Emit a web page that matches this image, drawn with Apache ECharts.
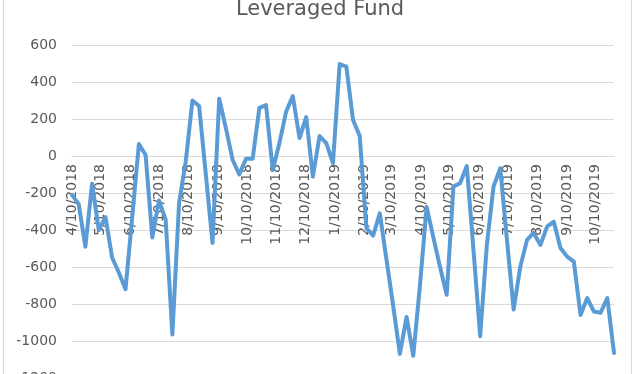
<!DOCTYPE html>
<html>
<head>
<meta charset="utf-8">
<script src="https://cdn.jsdelivr.net/npm/echarts@6/dist/echarts.min.js"></script>
<style>
html,body{margin:0;padding:0;background:#fff;}
#chart{width:640px;height:374px;}
</style>
</head>
<body>
<div id="chart"></div>
<script>
// Weekly observations (Tuesdays) starting 4/10/2018
var startDate = [2018, 4, 10];
var endDate = [2019, 10, 29];
var netPositions = [
  -210, -260, -490, -150, -400, -330, -550, -630, -720, -330,
  65, 5, -440, -240, -345, -965, -255, -30, 300, 270,
  -100, -470, 310, 150, -20, -100, -15, -15, 260, 275,
  -76, 70, 240, 324, 97, 210, -112, 108, 70, -38,
  497, 483, 195, 108, -390, -430, -310, -560, -810, -1070,
  -870, -1080, -700, -275, -440, -600, -750, -165, -147, -54,
  -507, -974, -480, -165, -66, -453, -830, -598, -454, -416,
  -481, -382, -355, -497, -544, -571, -859, -768, -841, -847,
  -768, -1065
];
var yTicks = [-1200, -1000, -800, -600, -400, -200, 0, 200, 400, 600];
var labelDay = 10; // axis labels on the 10th of each month

function fmt(d){
  return (d.getUTCMonth()+1) + '/' + d.getUTCDate() + '/' + d.getUTCFullYear();
}
var days = [];
var t0 = Date.UTC(startDate[0], startDate[1]-1, startDate[2]);
var t1 = Date.UTC(endDate[0], endDate[1]-1, endDate[2]);
for (var t = t0; t <= t1; t += 86400000) days.push(fmt(new Date(t)));
var seriesData = netPositions.map(function(v, i){
  return [fmt(new Date(t0 + i*7*86400000)), v];
});

var GRID_TOP = 45, GRID_H = 333;
var yMin = yTicks[0], yMax = yTicks[yTicks.length-1];
// distance from the grid bottom to the zero line (x axis crosses at 0)
var zeroOffset = GRID_H * (0 - yMin) / (yMax - yMin);

var FONT = 'DejaVu Sans';
var chart = echarts.init(document.getElementById('chart'));
chart.setOption({
  animation: false,
  title: {
    text: 'Leveraged Fund',
    left: 'center',
    top: -6,
    textStyle: {fontFamily: FONT, fontSize: 21, fontWeight: 'normal', color: '#595959'}
  },
  graphic: [{
    type: 'rect',
    shape: {x: 3.5, y: -5, width: 628, height: 390},
    style: {fill: 'none', stroke: '#d9d9d9', lineWidth: 1},
    silent: true
  }],
  grid: {left: 72, right: 26, top: GRID_TOP, height: GRID_H, containLabel: false, outerBoundsMode: 'none'},
  xAxis: {
    type: 'category',
    data: days,
    boundaryGap: false,
    position: 'bottom',
    offset: -zeroOffset,
    axisLine: {show: true, onZero: false, lineStyle: {color: '#d9d9d9', width: 1}},
    axisTick: {show: false},
    splitLine: {show: false},
    axisLabel: {
      rotate: 90,
      margin: 8,
      fontFamily: FONT,
      fontSize: 14,
      color: '#595959',
      interval: function(idx, val){ return +val.split('/')[1] === labelDay; }
    }
  },
  yAxis: {
    type: 'value',
    min: yMin,
    max: yMax,
    interval: 200,
    axisLine: {show: false},
    axisTick: {show: false},
    splitLine: {lineStyle: {color: '#d9d9d9', width: 1}},
    axisLabel: {margin: 15, fontFamily: FONT, fontSize: 14, color: '#595959',
      formatter: function(v){ return String(v); }}
  },
  series: [{
    type: 'line',
    zlevel: 1,
    data: seriesData,
    showSymbol: false,
    symbol: 'none',
    lineStyle: {color: '#5b9bd5', width: 4, join: 'round', cap: 'round'},
    itemStyle: {color: '#5b9bd5'}
  }]
});
</script>
</body>
</html>
